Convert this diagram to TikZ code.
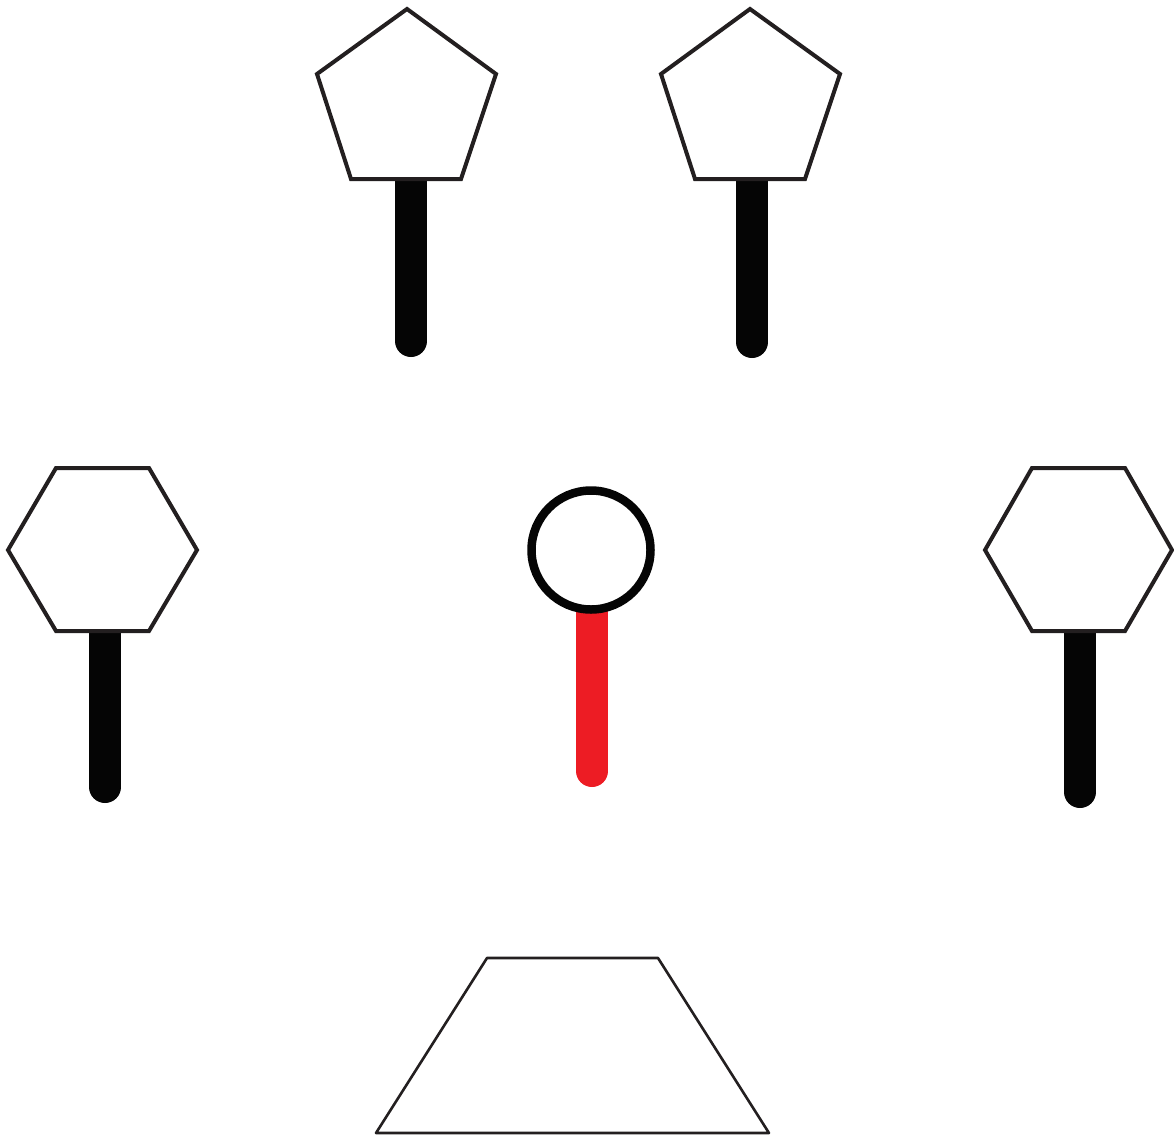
\documentclass[tikz,border=0pt]{standalone}
\definecolor{outl}{HTML}{231F20}
\definecolor{stickc}{HTML}{050505}
\definecolor{redc}{HTML}{ED1C24}
\begin{document}
\begin{tikzpicture}[x=1pt,y=-1pt,
  shapeline/.style={draw=outl,line width=4pt,fill=white},
  stick/.style={draw=stickc,line width=32pt,line cap=round},
  redstick/.style={draw=redc,line width=32pt,line cap=round}]
\useasboundingbox (0,0) rectangle (1174,1135);
% coordinates for stick tops and ends
\coordinate (p1top) at (411,175); \coordinate (p1end) at (411,341);
\coordinate (p2top) at (752,175); \coordinate (p2end) at (752,342);
\coordinate (h1top) at (105,625); \coordinate (h1end) at (105,787);
\coordinate (h2top) at (1080,625); \coordinate (h2end) at (1080,792);
\coordinate (ctop) at (592,600); \coordinate (cend) at (592,771);
% sticks
\draw[stick] (p1top) -- (p1end);
\draw[stick] (p2top) -- (p2end);
\draw[stick] (h1top) -- (h1end);
\draw[stick] (h2top) -- (h2end);
\draw[redstick] (ctop) -- (cend);
% pentagons
\draw[shapeline] (407,9) -- (496,74) -- (461,179) -- (351,179) -- (317,74) -- cycle;
\draw[shapeline] (750,9) -- (840,74) -- (805,179) -- (695,179) -- (661,74) -- cycle;
% hexagons
\draw[shapeline] (56,468) -- (149,468) -- (197,550) -- (149,631) -- (56,631) -- (8,550) -- cycle;
\draw[shapeline] (1032,468) -- (1125,468) -- (1172,550) -- (1125,631) -- (1032,631) -- (985,550) -- cycle;
% circle
\draw[draw=stickc,line width=8.5pt,fill=white] (591,550) circle (59.5);
% trapezoid
\draw[draw=outl,line width=2.6pt,line join=round] (487,958) -- (658,958) -- (769,1133) -- (376,1133) -- cycle;
\end{tikzpicture}
\end{document}
